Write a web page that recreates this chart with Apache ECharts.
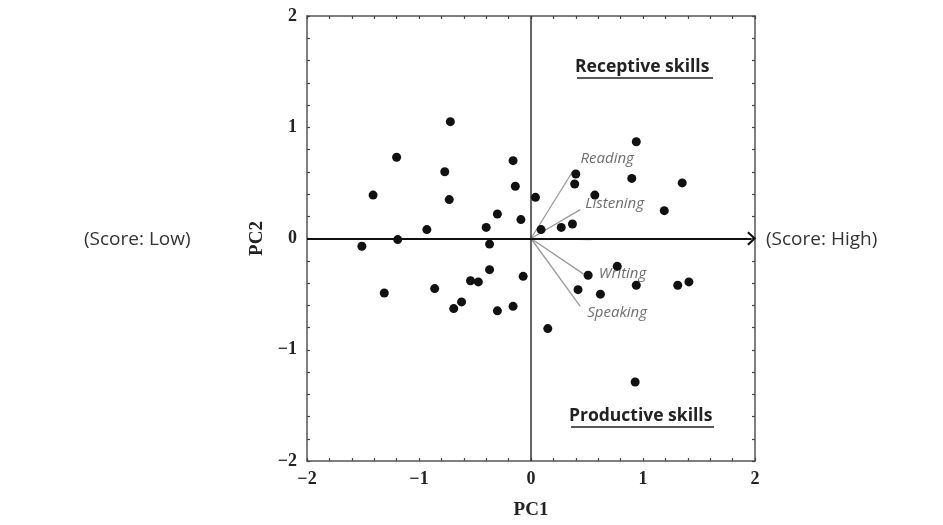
<!DOCTYPE html>
<html>
<head>
<meta charset="utf-8">
<script src="https://cdn.jsdelivr.net/npm/echarts@6/dist/echarts.min.js"></script>
<style>
  html, body { margin: 0; padding: 0; background: #fff; }
  #chart { width: 943px; height: 525px; }
</style>
</head>
<body>
<div id="chart"></div>
<script>
// PCA scores (PC1, PC2)
const scorePC1 = [
  -0.72, -1.20, -1.41, -0.77, -0.73, -0.16, -0.14, -0.30, -0.09, -0.93,
  -0.40, -1.19, -1.51, -0.37, -0.37, -0.07, -0.54, -0.47, -0.86, -1.31,
  -0.62, -0.69, -0.30, -0.16,
  0.04, 0.09, 0.94, 0.40, 0.39, 0.90, 1.35, 0.57, 1.19, 0.27,
  0.37, 0.77, 0.51, 0.94, 1.31, 1.41, 0.42, 0.62, 0.15, 0.93
];
const scorePC2 = [
  1.05, 0.73, 0.39, 0.60, 0.35, 0.70, 0.47, 0.22, 0.17, 0.08,
  0.10, -0.01, -0.07, -0.05, -0.28, -0.34, -0.38, -0.39, -0.45, -0.49,
  -0.57, -0.63, -0.65, -0.61,
  0.37, 0.08, 0.87, 0.58, 0.49, 0.54, 0.50, 0.39, 0.25, 0.10,
  0.13, -0.25, -0.33, -0.42, -0.42, -0.39, -0.46, -0.50, -0.81, -1.29
];

// loading vectors
const loadingNames = ["Reading", "Listening", "Writing", "Speaking", ""];
const loadingPC1 = [0.37, 0.44, 0.47, 0.44, 0.54];
const loadingPC2 = [0.60, 0.26, -0.32, -0.61, -0.01];

const axisMin = -2;
const axisMax = 2;
const tickLabels = ["\u22122", "\u22121", "0", "1", "2"];

const chart = echarts.init(document.getElementById("chart"));

const tickFont = {
  color: "#222",
  fontFamily: "Liberation Serif",
  fontWeight: "bold",
  fontSize: 18,
};
const frameLine = { show: true, onZero: false, lineStyle: { color: "#555", width: 1.5 } };
const ticks = { show: true, inside: true, length: 3, lineStyle: { color: "#444", width: 1.2 } };
const minor = { show: true, splitNumber: 5, length: 3, lineStyle: { color: "#444", width: 1.2 } };
const fmt = (v) => tickLabels[Math.round(v - axisMin)];

const baseAxis = {
  type: "value",
  min: axisMin,
  max: axisMax,
  interval: 1,
  axisLine: frameLine,
  axisTick: ticks,
  minorTick: minor,
  splitLine: { show: false },
};

const scores = scorePC1.map((x, i) => [x, scorePC2[i]]);

chart.setOption({
  animation: false,
  backgroundColor: "#fff",
  grid: { left: 307, right: 188, top: 16, bottom: 63 },
  xAxis: [
    {
      ...baseAxis,
      position: "bottom",
      name: "PC1",
      nameLocation: "middle",
      nameGap: 40,
      nameTextStyle: { ...tickFont, fontSize: 19 },
      axisLabel: { ...tickFont, margin: 9, formatter: fmt },
    },
    { ...baseAxis, position: "top", axisLabel: { show: false } },
  ],
  yAxis: [
    {
      ...baseAxis,
      position: "left",
      name: "PC2",
      nameLocation: "middle",
      nameGap: 40,
      nameRotate: 90,
      nameTextStyle: { ...tickFont, fontSize: 19 },
      axisLabel: { ...tickFont, margin: 10, formatter: fmt },
    },
    { ...baseAxis, position: "right", axisLabel: { show: false } },
  ],
  series: [
    {
      type: "lines",
      coordinateSystem: "cartesian2d",
      silent: true,
      lineStyle: { color: "#999", width: 1.3, opacity: 1 },
      data: loadingPC1.map((x, i) => ({ coords: [[0, 0], [x, loadingPC2[i]]] })),
      z: 2,
    },
    {
      type: "scatter",
      silent: true,
      symbolSize: 0,
      data: loadingPC1.map((x, i) => ({
        value: [x, loadingPC2[i]],
        name: loadingNames[i],
        label: {
          offset: [[3, -13], [0, -6], [10, 0], [2, 6], [0, 0]][i],
        },
      })),
      label: {
        show: true,
        position: "right",
        formatter: "{b}",
        color: "#4a4a4a",
        fontStyle: "italic",
        fontFamily: "Open Sans",
        fontSize: 15,
      },
      z: 3,
    },
    {
      type: "scatter",
      symbolSize: 9,
      itemStyle: { color: "#111", opacity: 1 },
      data: scores,
      z: 5,
      markLine: {
        silent: true,
        symbol: "none",
        label: { show: false },
        data: [
          [
            { coord: [0, axisMin], lineStyle: { color: "#333", width: 1.5, type: "solid" } },
            { coord: [0, axisMax] },
          ],
          [
            {
              coord: [axisMin, 0],
              symbol: "none",
              lineStyle: { color: "#111", width: 2, type: "solid" },
            },
            {
              coord: [1.97, 0],
              symbol: "path://M0,10 L10,0 L20,10 L18,12 L10,4 L2,12 Z",
              symbolSize: [14, 9],
              symbolKeepAspect: false,
            },
          ],
        ],
      },
    },
  ],
  graphic: [
    {
      type: "text",
      left: 84,
      top: 230,
      style: { text: "(Score: Low)", fill: "#333", font: "19px 'Open Sans'" },
    },
    {
      type: "text",
      left: 766,
      top: 230,
      style: { text: "(Score: High)", fill: "#333", font: "19px 'Open Sans'" },
    },
    {
      type: "text",
      left: 575,
      top: 58,
      style: { text: "Receptive skills", fill: "#222", font: "bold 17.5px 'Open Sans'" },
    },
    {
      type: "line",
      shape: { x1: 577, y1: 78, x2: 713, y2: 78 },
      style: { stroke: "#222", lineWidth: 1.5 },
    },
    {
      type: "text",
      left: 569,
      top: 407,
      style: { text: "Productive skills", fill: "#222", font: "bold 17.5px 'Open Sans'" },
    },
    {
      type: "line",
      shape: { x1: 571, y1: 427, x2: 714, y2: 427 },
      style: { stroke: "#222", lineWidth: 1.5 },
    },
  ],
});
</script>
</body>
</html>
